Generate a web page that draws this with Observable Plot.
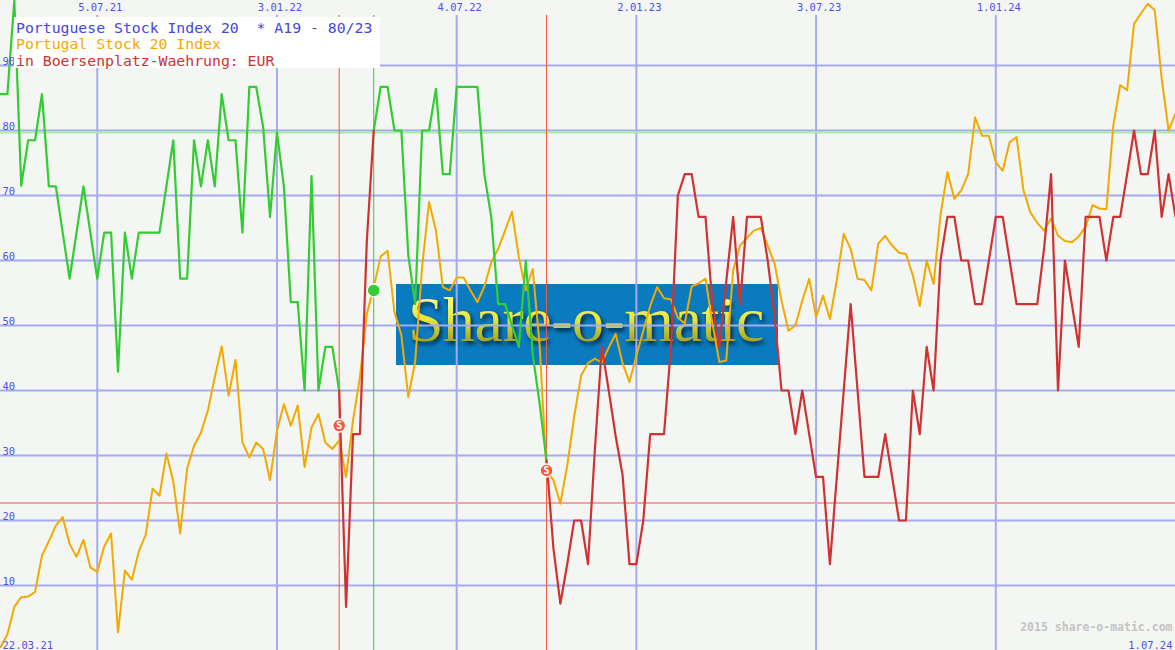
<!DOCTYPE html>
<html>
<head>
<meta charset="utf-8">
<script src="https://cdn.jsdelivr.net/npm/d3@7"></script>
<script src="https://cdn.jsdelivr.net/npm/@observablehq/plot@0.6"></script>
<style>
  html, body { margin: 0; padding: 0; background: #f4f6f3; }
  #wrap { position: relative; width: 1175px; height: 650px; background: #f4f6f3; overflow: hidden; }
  #wm { position: absolute; left: 396px; top: 284px; width: 382px; height: 81px; background: #0a7bbf; }
  #wm span { position: absolute; left: 12px; top: -1px; font-family: "Liberation Serif", "DejaVu Serif", serif; font-size: 64px; letter-spacing: -0.5px;
    background: linear-gradient(#ffff90 15%, #e4e43a 50%, #7f7f1c 95%); -webkit-background-clip: text; background-clip: text; color: transparent;
    filter: drop-shadow(2px 3px 2px rgba(0,20,40,0.85)); }
  #chart { position: absolute; left: 0; top: 0; }
  #legend { position: absolute; left: 14px; top: 17px; width: 366px; height: 51px; background: #ffffff;
    font-family: "DejaVu Sans Mono", "Liberation Mono", monospace; font-size: 14.8px; line-height: 16.3px; padding: 3px 0 0 2px; box-sizing: border-box; white-space: pre; }
</style>
</head>
<body>
<div id="wrap">
  <div id="wm"><span>Share-o-matic</span></div>
  <div id="chart"></div>
  <div id="legend"></div>
</div>
<script>
// ---- data (weekly points) ----
const startDate = "2021-03-29";
const endDate = "2024-07-01";

// Portuguese Stock Index 20 * A19 indicator (0..100), one value per week
const indicator = [
  85.6, 85.6, 100, 71.5, 78.5, 78.5, 85.6, 71.4, 71.4, 64.3,
  57.2, 64.3, 71.4, 64.3, 57.2, 64.3, 64.3, 42.9, 64.3, 57.2,
  64.3, 64.3, 64.3, 64.3, 71.4, 78.5, 57.2, 57.2, 78.5, 71.4,
  78.5, 71.4, 85.6, 78.5, 78.5, 64.3, 86.7, 86.7, 80.5, 66.7,
  79.7, 71.4, 53.6, 53.6, 40, 73, 40, 46.7, 46.7, 40,
  6.7, 33.3, 33.3, 63, 80, 86.7, 86.7, 80, 80, 60.8,
  53.3, 80, 80, 86.4, 73.3, 73.3, 86.7, 86.7, 86.7, 86.7,
  73.3, 66.7, 53.3, 53.3, 50, 46.7, 60, 45.6, 38, 29.2,
  15.7, 7.2, 13.3, 20, 20, 13.3, 31, 46.7, 40, 33,
  27, 13.3, 13.3, 20, 33.3, 33.3, 33.3, 46.7, 70, 73.3,
  73.3, 66.7, 66.7, 53.3, 46.7, 56.7, 66.7, 53.3, 66.7, 66.7,
  66.7, 60, 51.4, 40, 40, 33.3, 40, 33.3, 26.7, 26.7,
  13.3, 26.7, 40, 53.3, 40, 26.7, 26.7, 26.7, 33.3, 26.7,
  20, 20, 40, 33.3, 46.7, 40, 60, 66.7, 66.7, 60,
  60, 53.3, 53.3, 60, 66.7, 66.7, 60, 53.3, 53.3, 53.3,
  53.3, 62, 73.3, 40, 60, 53.3, 46.7, 66.7, 66.7, 66.7,
  60, 66.7, 66.7, 73.3, 80, 73.3, 73.3, 80, 66.7, 73.3,
  66.7
];

// Portugal Stock 20 Index (scaled 0..100), one value per week
const index20 = [
  0.5, 2.5, 6.7, 8.2, 8.3, 9, 14.6, 16.8, 19.2, 20.5,
  16.4, 14.4, 17, 12.8, 12.1, 16, 18, 2.8, 12.3, 10.9,
  15.2, 17.8, 24.9, 23.8, 30.3, 26, 18, 28, 31.5, 33.5,
  36.9, 42, 46.8, 39.2, 44.7, 32, 29.7, 32, 31, 26.2,
  33.8, 37.9, 34.6, 37.7, 28.2, 34.3, 36.4, 32, 31, 32.3,
  26.7, 35.4, 42, 51.8, 55.9, 60.6, 61.5, 52, 48.5, 39,
  44.5, 59, 69, 64.6, 55.9, 55.4, 57.4, 57.4, 55.4, 53.6,
  56, 59.7, 61.8, 64.6, 67.5, 60.5, 55.4, 58.7, 47, 27.7,
  26.2, 22.6, 28.5, 36, 42.3, 44.2, 44.9, 44.3, 46.6, 48.7,
  44.2, 41.3, 45.4, 49.2, 53, 55.9, 54.2, 54, 51.2, 50.3,
  56, 56.5, 57.2, 50.3, 44.4, 44.6, 58.5, 62.3, 63.5, 64.6,
  65, 62.3, 59.5, 53.8, 49.2, 50, 53.8, 57.2, 51.3, 54.6,
  51, 57, 64.1, 61.8, 57.2, 57, 55.4, 62.6, 63.8, 62.3,
  61.2, 61, 57.7, 53, 60, 56.4, 67, 73.6, 69.5, 70.8,
  73.3, 82, 79.2, 79.2, 75.1, 73.8, 78.2, 79, 70.8, 67.4,
  65.8, 64.6, 66.5, 63.8, 63, 62.8, 63.7, 65.2, 68.5, 68,
  67.9, 80.8, 87, 86.2, 96.4, 98, 99.5, 98.5, 88, 80,
  82.6
];

// signals: week index, type (S = sell, K = buy), marker value
const signalWeeks = [49, 54, 79];
const signalTypes = ["S", "K", "S"];
const signalValues = [34.6, 55.4, 27.7];

const levels = [80, 23];
const yTicks = [10, 20, 30, 40, 50, 60, 70, 80, 90];
const xTickDates = ["2021-07-05", "2022-01-03", "2022-07-04", "2023-01-02", "2023-07-03", "2024-01-01"];
const xTickLabels = ["5.07.21", "3.01.22", "4.07.22", "2.01.23", "3.07.23", "1.01.24"];
const cornerLabels = ["22.03.21", "1.07.24"];
const copyright = "2015 share-o-matic.com";
const legendLines = [
  ["Portuguese Stock Index 20  * A19 - 80/23", "#4646e0"],
  ["Portugal Stock 20 Index", "#f2aa00"],
  ["in Boersenplatz-Waehrung: EUR", "#d03232"]
];

// ---- build ----
const t0 = new Date(startDate + "T00:00:00Z");
const weekDate = (k) => d3.utcDay.offset(t0, 7 * k);

const orangeRows = index20.map((v, k) => ({date: weekDate(k), v}));

// colour the indicator by state: green until a sell signal, red until a buy signal
const indRows = [];
let seg = 0, state = "K";
indicator.forEach((v, k) => {
  const si = signalWeeks.indexOf(k);
  if (si >= 0) {
    indRows.push({date: weekDate(k), v, seg, state}); // close previous segment
    seg++; state = signalTypes[si];
  }
  indRows.push({date: weekDate(k), v, seg, state});
});
const greenRows = indRows.filter(d => d.state === "K");
const redRows = indRows.filter(d => d.state === "S");

const signals = signalWeeks.map((k, i) => ({
  date: weekDate(k), type: signalTypes[i], v: signalValues[i],
  color: signalTypes[i] === "S" ? "#f25a3e" : "#33cc33"
}));
const xTicks = xTickDates.map((d, i) => ({date: new Date(d + "T00:00:00Z"), label: xTickLabels[i]}));

const mono = "DejaVu Sans Mono, Liberation Mono, monospace";
const gridColor = "#a3acf0";
const tickColor = "#4f4fee";

const chart = Plot.plot({
  width: 1175, height: 650, margin: 0,
  x: {type: "utc", domain: [t0, new Date(endDate + "T00:00:00Z")], axis: null},
  y: {domain: [0, 100], axis: null},
  style: {background: "transparent", overflow: "visible"},
  marks: [
    Plot.ruleY(yTicks, {stroke: gridColor, strokeWidth: 2}),
    Plot.ruleX(xTicks, {x: "date", stroke: gridColor, strokeWidth: 2, insetTop: 15}),
    Plot.ruleY([levels[0]], {stroke: "#a6eea6", strokeWidth: 2, dy: 2}),
    Plot.ruleY([levels[1]], {stroke: "#f4a2a2", strokeWidth: 2, dy: 2}),
    Plot.ruleX(signals, {x: "date", stroke: "color", strokeWidth: 1, insetTop: 15}),
    Plot.line(orangeRows, {x: "date", y: "v", stroke: "#f2aa00", strokeWidth: 2}),
    Plot.line(greenRows, {x: "date", y: "v", z: "seg", stroke: "#33cc33", strokeWidth: 2.2}),
    Plot.line(redRows, {x: "date", y: "v", z: "seg", stroke: "#d03232", strokeWidth: 2.2}),
    Plot.dot(signals, {x: "date", y: "v", r: 6.5, fill: "color", stroke: "white", strokeWidth: 1.5}),
    Plot.text(signals, {x: "date", y: "v", text: d => d.type === "S" ? "S" : "", fill: "white", fontSize: 10, fontWeight: "bold", fontFamily: mono}),
    Plot.text(xTicks, {x: "date", text: "label", frameAnchor: "top", lineAnchor: "top", dy: 3, dx: 3, fill: tickColor, fontSize: 10.5, fontFamily: mono}),
    Plot.text(yTicks, {y: d => d, text: d => String(d), frameAnchor: "left", textAnchor: "start", lineAnchor: "bottom", dx: 2, dy: -1, fill: tickColor, fontSize: 10.5, fontFamily: mono}),
    Plot.text([cornerLabels[0]], {frameAnchor: "bottom-left", textAnchor: "start", lineAnchor: "bottom", dx: 2, dy: -2, fill: tickColor, fontSize: 10.5, fontFamily: mono}),
    Plot.text([cornerLabels[1]], {frameAnchor: "bottom-right", textAnchor: "end", lineAnchor: "bottom", dx: -3, dy: -2, fill: tickColor, fontSize: 10.5, fontFamily: mono}),
    Plot.text([copyright], {frameAnchor: "bottom-right", textAnchor: "end", lineAnchor: "bottom", dx: -3, dy: -20, fill: "#c4c4c4", fontSize: 11.5, fontWeight: "bold", fontFamily: mono})
  ]
});
document.getElementById("chart").appendChild(chart);

const legend = document.getElementById("legend");
legendLines.forEach(([text, color]) => {
  const div = document.createElement("div");
  div.textContent = text;
  div.style.color = color;
  legend.appendChild(div);
});
</script>
</body>
</html>
